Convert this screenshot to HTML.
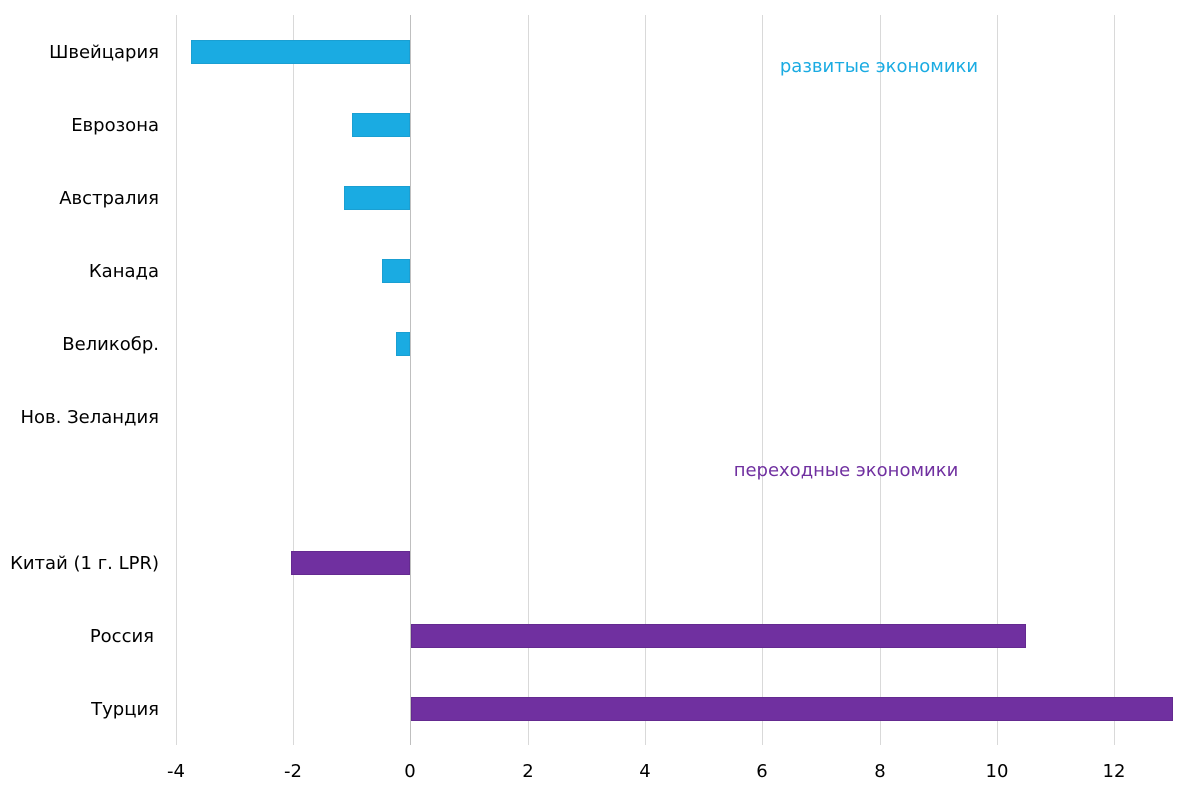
<!DOCTYPE html>
<html><head><meta charset="utf-8"><style>
html,body{margin:0;padding:0;background:#fff;}
svg{display:block;font-family:"DejaVu Sans","Liberation Sans",sans-serif;}
</style></head><body>
<svg width="1200" height="790" viewBox="0 0 1200 790">
<g stroke="#d9d9d9" stroke-width="1">
<line x1="176.5" y1="15" x2="176.5" y2="745"/>
<line x1="293.5" y1="15" x2="293.5" y2="745"/>
<line x1="528.5" y1="15" x2="528.5" y2="745"/>
<line x1="645.5" y1="15" x2="645.5" y2="745"/>
<line x1="762.5" y1="15" x2="762.5" y2="745"/>
<line x1="880.5" y1="15" x2="880.5" y2="745"/>
<line x1="997.5" y1="15" x2="997.5" y2="745"/>
<line x1="1114.5" y1="15" x2="1114.5" y2="745"/>
<line x1="410.5" y1="15" x2="410.5" y2="745" stroke="#bfbfbf"/>
</g>
<g fill="#1aabe2" stroke="#1a9fd2" stroke-width="1">
<rect x="191.5" y="40.5" width="218" height="23"/>
<rect x="352.5" y="113.5" width="57" height="23"/>
<rect x="344.5" y="186.5" width="65" height="23"/>
<rect x="382.5" y="259.5" width="27" height="23"/>
<rect x="396.5" y="332.5" width="13" height="23"/>
</g>
<g fill="#7030a0" stroke="#642a90" stroke-width="1">
<rect x="291.5" y="551.5" width="118" height="23"/>
<rect x="411.5" y="624.5" width="614" height="23"/>
<rect x="411.5" y="697.5" width="761" height="23"/>
</g>
<g font-size="18" fill="#000" text-anchor="end">
<text x="159" y="58">Швейцария</text>
<text x="159" y="131">Еврозона</text>
<text x="159" y="204">Австралия</text>
<text x="159" y="277">Канада</text>
<text x="159" y="350">Великобр.</text>
<text x="159" y="423">Нов. Зеландия</text>
<text x="159" y="569">Китай (1 г. LPR)</text>
<text x="154" y="642">Россия</text>
<text x="159" y="715">Турция</text>
</g>
<g font-size="18" fill="#000" text-anchor="middle">
<text x="176" y="777">-4</text>
<text x="293" y="777">-2</text>
<text x="410" y="777">0</text>
<text x="528" y="777">2</text>
<text x="645" y="777">4</text>
<text x="762" y="777">6</text>
<text x="880" y="777">8</text>
<text x="997" y="777">10</text>
<text x="1114" y="777">12</text>
</g>
<text x="879" y="72" font-size="18" fill="#1aabe2" text-anchor="middle">развитые экономики</text>
<text x="846" y="476" font-size="18" fill="#7030a0" text-anchor="middle">переходные экономики</text>
</svg>
</body></html>
